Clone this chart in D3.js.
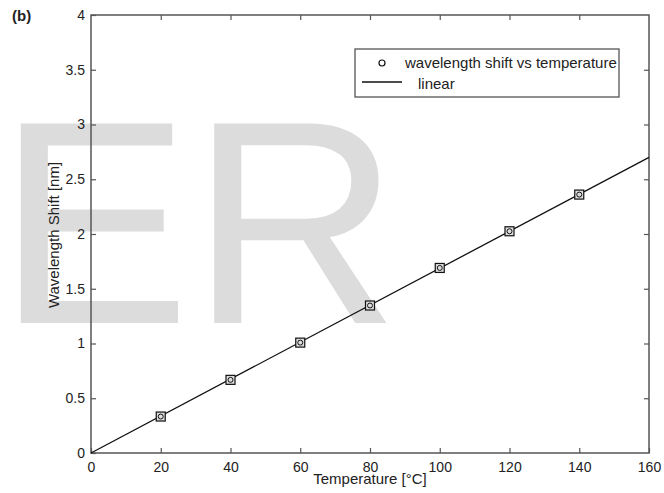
<!DOCTYPE html>
<html>
<head>
<meta charset="utf-8">
<script src="https://cdn.jsdelivr.net/npm/d3@7"></script>
<style>
  body { margin: 0; background: #fff; }
  text { font-family: Arial, "Liberation Sans", Helvetica, sans-serif; fill: #222; }
</style>
</head>
<body>
<script>
// data
var temps = [20, 40, 60, 80, 100, 120, 140];
var shifts = [0.333, 0.668, 1.008, 1.347, 1.69, 2.025, 2.36];
var fitX = [0, 160];
var fitY = [0, 2.7];
var xTicks = [0, 20, 40, 60, 80, 100, 120, 140, 160];
var yTicks = [0, 0.5, 1, 1.5, 2, 2.5, 3, 3.5, 4];

var w = 664, h = 493;
var plotL = 91, plotR = 649, plotT = 15, plotB = 453;
var axisColor = '#555';

var svg = d3.select('body').append('svg')
    .attr('width', w)
    .attr('height', h);

// watermark behind everything
svg.append('text')
    .attr('x', -3)
    .attr('y', 323)
    .style('font-size', '290px')
    .style('fill', '#dcdcdc')
    .text('ER');

var x = d3.scaleLinear().domain([0, 160]).range([plotL, plotR]);
var y = d3.scaleLinear().domain([0, 4]).range([plotB, plotT]);

// frame
svg.append('rect')
    .attr('x', plotL).attr('y', plotT)
    .attr('width', plotR - plotL).attr('height', plotB - plotT)
    .attr('fill', 'none')
    .attr('stroke', axisColor)
    .attr('stroke-width', 1.5);

function styleAxis(g) {
    g.select('.domain').remove();
    g.selectAll('.tick line').attr('stroke', axisColor).attr('stroke-width', 1.2);
    g.selectAll('.tick text')
        .style('font-size', '14px')
        .style('font-family', 'Arial, "Liberation Sans", sans-serif')
        .attr('fill', '#222');
}

svg.append('g')
    .attr('transform', 'translate(0,' + plotB + ')')
    .call(d3.axisBottom(x).tickValues(xTicks).tickFormat(d3.format('d'))
        .tickSizeInner(-5).tickSizeOuter(0).tickPadding(9))
    .call(styleAxis);
svg.append('g')
    .attr('transform', 'translate(0,' + plotT + ')')
    .call(d3.axisTop(x).tickValues(xTicks.slice(1, -1)).tickFormat('')
        .tickSizeInner(-5).tickSizeOuter(0))
    .call(styleAxis);
svg.append('g')
    .attr('transform', 'translate(' + plotL + ',0)')
    .call(d3.axisLeft(y).tickValues(yTicks).tickFormat(d3.format('~g'))
        .tickSizeInner(-5).tickSizeOuter(0).tickPadding(6))
    .call(styleAxis);
svg.append('g')
    .attr('transform', 'translate(' + plotR + ',0)')
    .call(d3.axisRight(y).tickValues(yTicks.slice(1, -1)).tickFormat('')
        .tickSizeInner(-5).tickSizeOuter(0))
    .call(styleAxis);

// fitted line
svg.append('path')
    .datum(d3.zip(fitX, fitY))
    .attr('fill', 'none')
    .attr('stroke', '#111')
    .attr('stroke-width', 1.3)
    .attr('d', d3.line().x(function(d) { return x(d[0]); }).y(function(d) { return y(d[1]); }));

// markers
var pts = svg.append('g').selectAll('g')
    .data(d3.zip(temps, shifts))
    .enter().append('g')
    .attr('transform', function(d) { return 'translate(' + x(d[0]) + ',' + y(d[1]) + ')'; });
pts.append('rect')
    .attr('x', -4.5).attr('y', -4.5).attr('width', 9).attr('height', 9)
    .attr('fill', '#ddd').attr('stroke', '#111').attr('stroke-width', 1.2);
pts.append('circle')
    .attr('r', 2.5)
    .attr('fill', 'none').attr('stroke', '#111').attr('stroke-width', 1);

// axis labels
svg.append('text')
    .attr('x', 370)
    .attr('y', 484)
    .attr('text-anchor', 'middle')
    .style('font-size', '15px')
    .text('Temperature [°C]');
svg.append('text')
    .attr('transform', 'translate(59,235) rotate(-90)')
    .attr('text-anchor', 'middle')
    .style('font-size', '15px')
    .text('Wavelength Shift [nm]');

svg.append('text')
    .attr('x', 12).attr('y', 21)
    .style('font-size', '15px')
    .style('font-weight', 'bold')
    .text('(b)');

// legend
var leg = svg.append('g');
leg.append('rect')
    .attr('x', 355).attr('y', 49).attr('width', 264).attr('height', 48)
    .attr('fill', '#fff')
    .attr('stroke', axisColor).attr('stroke-width', 1.3);
leg.append('circle')
    .attr('cx', 382).attr('cy', 63).attr('r', 3)
    .attr('fill', 'none').attr('stroke', '#111').attr('stroke-width', 1.2);
leg.append('text')
    .attr('x', 405).attr('y', 68)
    .style('font-size', '15px')
    .text('wavelength shift vs temperature');
leg.append('line')
    .attr('x1', 362).attr('x2', 402).attr('y1', 82).attr('y2', 82)
    .attr('stroke', '#111').attr('stroke-width', 1.3);
leg.append('text')
    .attr('x', 418).attr('y', 89)
    .style('font-size', '15px')
    .text('linear');
</script>
</body>
</html>
